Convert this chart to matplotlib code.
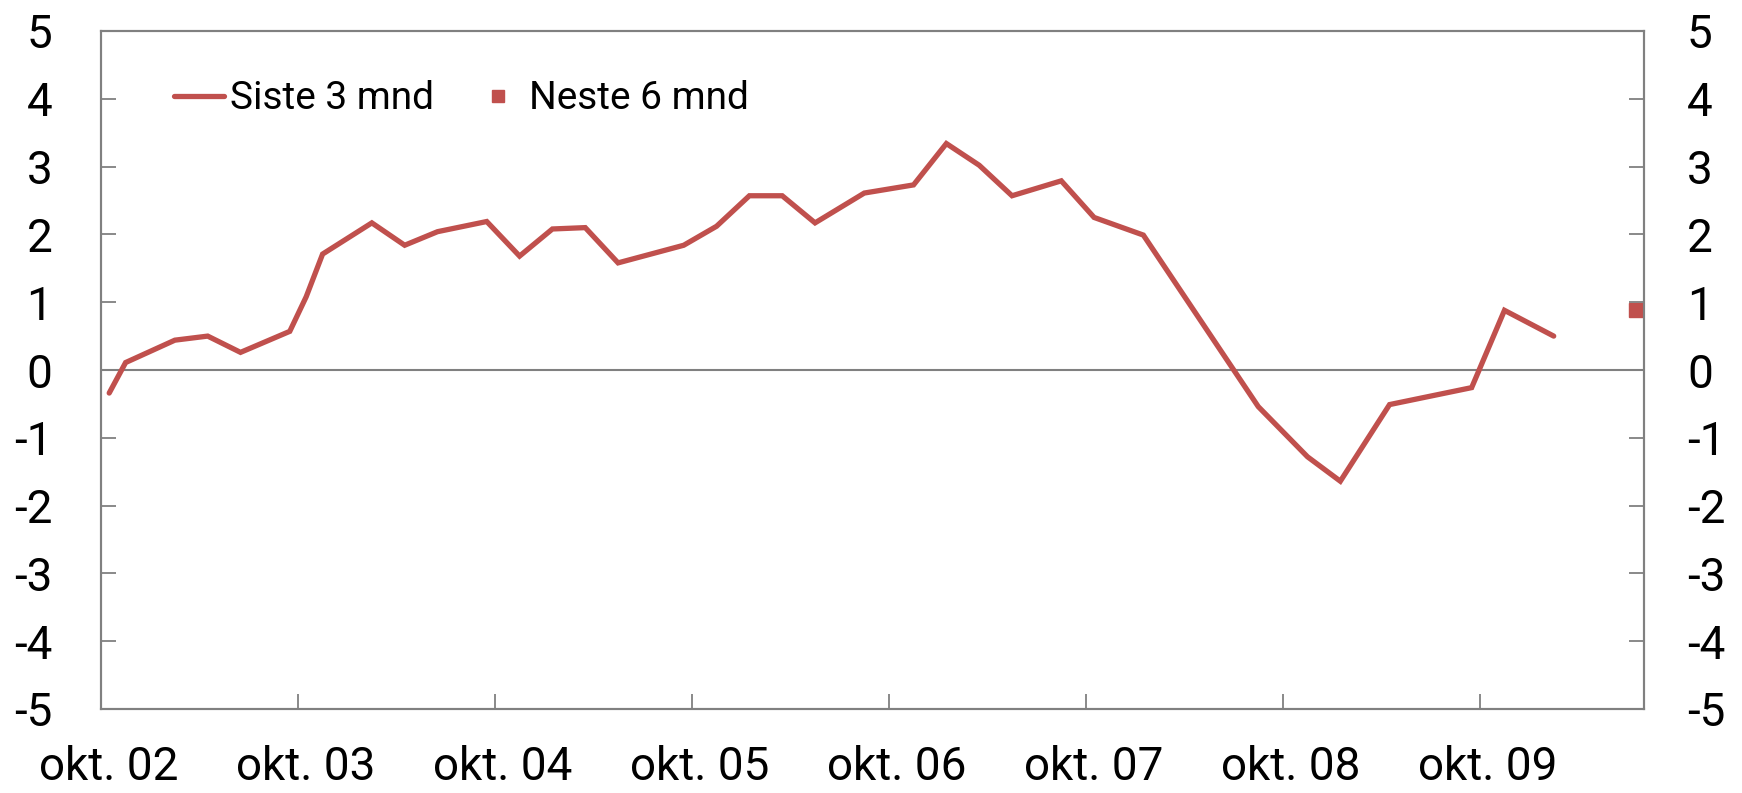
import numpy as np
import pandas as pd
import matplotlib
matplotlib.use("Agg")
import matplotlib.pyplot as plt
from matplotlib.lines import Line2D

plt.rcParams["axes.unicode_minus"] = False

# survey months and values (Siste 3 mnd)
months = ["2002-10", "2002-11", "2003-02", "2003-04", "2003-06", "2003-09",
          "2003-10", "2003-11", "2004-02", "2004-04", "2004-06", "2004-09",
          "2004-11", "2005-01", "2005-03", "2005-05", "2005-09", "2005-11",
          "2006-01", "2006-03", "2006-05", "2006-08", "2006-11", "2007-01",
          "2007-03", "2007-05", "2007-08", "2007-10", "2008-01", "2008-08",
          "2008-11", "2009-01", "2009-04", "2009-09", "2009-11", "2010-02"]
siste3 = [-0.34, 0.11, 0.44, 0.50, 0.26, 0.57,
          1.08, 1.71, 2.17, 1.84, 2.04, 2.19,
          1.68, 2.08, 2.10, 1.58, 1.84, 2.12,
          2.57, 2.57, 2.17, 2.61, 2.73, 3.34,
          3.02, 2.57, 2.79, 2.25, 1.99, -0.54,
          -1.28, -1.64, -0.51, -0.26, 0.88, 0.50]

# expectation next 6 months
neste_month = ["2010-07"]
neste6 = [0.89]

start = pd.Period("2002-10", freq="M")
end = pd.Period("2010-07", freq="M")
tick_labels = ["okt. 02", "okt. 03", "okt. 04", "okt. 05",
               "okt. 06", "okt. 07", "okt. 08", "okt. 09"]

def midx(m):
    return (pd.Period(m, freq="M") - start).n

x = np.array([midx(m) for m in months])
xn = np.array([midx(m) for m in neste_month])
nmonths = (end - start).n + 1

red = "#C0504D"
grey = "#808080"
fam = ["Roboto", "Liberation Sans", "DejaVu Sans"]
fs = 33
wt = "normal"

fig = plt.figure(figsize=(17.42, 7.93), dpi=100)
ax = fig.add_axes([101/1742, 1 - 709/793, (1644 - 101)/1742, (709 - 31)/793])

ax.plot(x, siste3, color=red, lw=3.8, solid_capstyle="round", solid_joinstyle="miter")
ax.plot(xn, neste6, ls="none", marker="s", ms=10.5, color=red, clip_on=False)
ax.axhline(0, color=grey, lw=1.5, zorder=0)

ax.set_xlim(-0.5, nmonths - 0.5)
ax.set_ylim(-5, 5)
ax.set_yticks(range(-5, 6))

ax.set_xticks(np.arange(0, nmonths, 12))
ax.set_xticklabels(tick_labels)
ax.set_xticks(np.arange(11.5, nmonths - 1, 12), minor=True)
ax.tick_params(axis="x", which="major", length=0, pad=26)
ax.tick_params(axis="x", which="minor", length=10.5, width=1.3, color=grey, direction="in")
ax.tick_params(axis="y", length=10.5, width=1.3, color=grey, direction="in", pad=35)

ax2 = ax.twinx()
ax2.set_ylim(-5, 5)
ax2.set_yticks(range(-5, 6))
ax2.tick_params(axis="y", length=10.5, width=1.3, color=grey, direction="in", pad=31)

for a in (ax, ax2):
    for s in a.spines.values():
        s.set_color(grey)
        s.set_linewidth(1.5)
    for lab in a.get_xticklabels() + a.get_yticklabels():
        lab.set_fontfamily(fam)
        lab.set_fontsize(fs)
        lab.set_fontweight(wt)

handles = [Line2D([], [], color=red, lw=3.8, solid_capstyle="round"),
           Line2D([], [], color=red, ls="none", marker="s", ms=8)]
leg = ax.legend(handles, ["Siste 3 mnd", "Neste 6 mnd"], ncol=2, frameon=False,
                loc="upper left", bbox_to_anchor=(0.037, 0.95),
                prop={"family": fam, "size": 28, "weight": wt},
                handlelength=1.3, handletextpad=0.15, columnspacing=1.0,
                borderaxespad=0)

fig.savefig("out.png", dpi=100)
